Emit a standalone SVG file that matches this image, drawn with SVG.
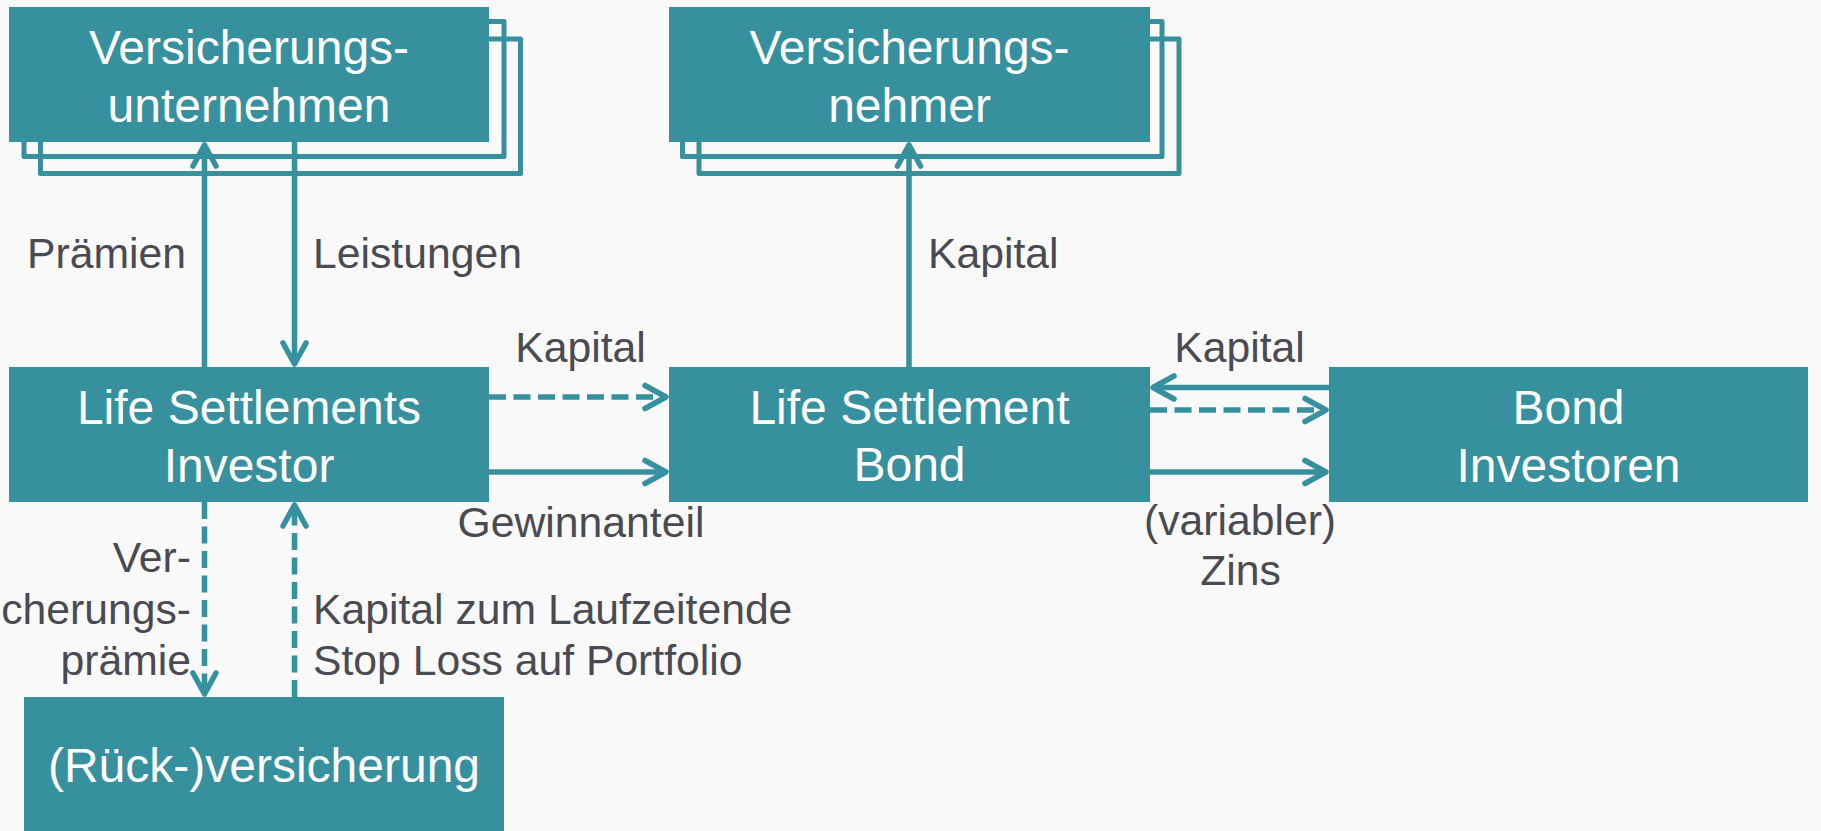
<svg xmlns="http://www.w3.org/2000/svg" width="1821" height="831" viewBox="0 0 1821 831">
<defs>
<style>
.box{fill:#36909d}
.frame{fill:none;stroke:#36909d;stroke-width:5;stroke-linejoin:round}
.bt{font-family:"Liberation Sans",Arial,sans-serif;font-size:48px;fill:#ffffff;text-anchor:middle}
.lt{font-family:"Liberation Sans",Arial,sans-serif;font-size:42.7px;fill:#4a4a52}
.c{fill:none;stroke:#36909d;stroke-width:5.5}
.d{stroke-dasharray:17 7.5}
</style>
<marker id="ah" markerUnits="userSpaceOnUse" markerWidth="40" markerHeight="40" viewBox="-30 -20 40 40" refX="0" refY="0" orient="auto">
<path d="M-21,-11.5 L0,0 L-21,11.5" fill="none" stroke="#36909d" stroke-width="5.5" stroke-linecap="round" stroke-linejoin="round"/>
</marker>
</defs>
<rect width="1821" height="831" fill="#f9f9f9"/>

<g id="versicherungsunternehmen">
<rect class="frame" x="40.5" y="39" width="480" height="134.5"/>
<rect class="frame" x="24" y="21.5" width="480" height="135"/>
<rect class="box" x="9" y="7" width="480" height="135"/>
<text class="bt" x="249" y="63.5">Versicherungs-</text>
<text class="bt" x="249" y="122">unternehmen</text>
</g>

<g id="versicherungsnehmer">
<rect class="frame" x="699" y="39" width="480" height="134.5"/>
<rect class="frame" x="682.5" y="21.5" width="479.5" height="135"/>
<rect class="box" x="669" y="7" width="481" height="135"/>
<text class="bt" x="909.5" y="63.5">Versicherungs-</text>
<text class="bt" x="909.5" y="122">nehmer</text>
</g>

<g id="life-settlements-investor">
<rect class="box" x="9" y="367" width="480" height="135"/>
<text class="bt" x="249" y="424">Life Settlements</text>
<text class="bt" x="249" y="481.5">Investor</text>
</g>

<g id="life-settlement-bond">
<rect class="box" x="669" y="367" width="481" height="135"/>
<text class="bt" x="909.5" y="424">Life Settlement</text>
<text class="bt" x="909.5" y="481">Bond</text>
</g>

<g id="bond-investoren">
<rect class="box" x="1329" y="367" width="479" height="135"/>
<text class="bt" x="1568.5" y="423.5">Bond</text>
<text class="bt" x="1568.5" y="482">Investoren</text>
</g>

<g id="rueckversicherung">
<rect class="box" x="24" y="697" width="480" height="135"/>
<text class="bt" x="264" y="781.5">(Rück-)versicherung</text>
</g>

<g id="connectors">
<line class="c" x1="204.5" y1="367" x2="204.5" y2="145" marker-end="url(#ah)"/>
<line class="c" x1="294.5" y1="142" x2="294.5" y2="364" marker-end="url(#ah)"/>
<line class="c" x1="909" y1="367" x2="909" y2="145" marker-end="url(#ah)"/>
<line class="c d" x1="489" y1="397" x2="666" y2="397" marker-end="url(#ah)"/>
<line class="c" x1="489" y1="472" x2="666" y2="472" marker-end="url(#ah)"/>
<line class="c" x1="1329" y1="387.5" x2="1153" y2="387.5" marker-end="url(#ah)"/>
<line class="c d" x1="1150" y1="410" x2="1326" y2="410" marker-end="url(#ah)"/>
<line class="c" x1="1150" y1="472" x2="1326" y2="472" marker-end="url(#ah)"/>
<line class="c d" x1="204.5" y1="502" x2="204.5" y2="694" marker-end="url(#ah)"/>
<line class="c d" x1="294.5" y1="697" x2="294.5" y2="505" marker-end="url(#ah)"/>
</g>

<g id="labels">
<text class="lt" x="27" y="268">Prämien</text>
<text class="lt" x="313" y="268">Leistungen</text>
<text class="lt" x="928" y="268">Kapital</text>
<text class="lt" x="580.5" y="361.5" text-anchor="middle">Kapital</text>
<text class="lt" x="1239.5" y="361.5" text-anchor="middle">Kapital</text>
<text class="lt" x="581" y="537" text-anchor="middle">Gewinnanteil</text>
<text class="lt" x="1240" y="535" text-anchor="middle">(variabler)</text>
<text class="lt" x="1240.5" y="585" text-anchor="middle">Zins</text>
<text class="lt" x="191" y="572" text-anchor="end">Ver-</text>
<text class="lt" x="191" y="623.5" text-anchor="end">cherungs-</text>
<text class="lt" x="191" y="674.5" text-anchor="end">prämie</text>
<text class="lt" x="313" y="624">Kapital zum Laufzeitende</text>
<text class="lt" x="313" y="675">Stop Loss auf Portfolio</text>
</g>
</svg>
